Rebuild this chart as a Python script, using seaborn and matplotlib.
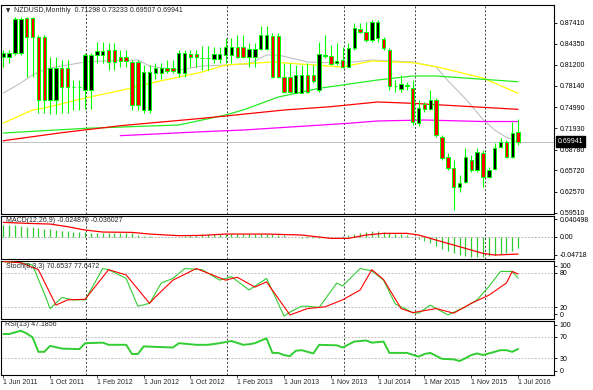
import numpy as np
import pandas as pd
import matplotlib
matplotlib.use('Agg')
import matplotlib.pyplot as plt
import seaborn as sns
from matplotlib.transforms import blended_transform_factory

sns.set_style('white')
plt.rcParams['font.family'] = ['Liberation Sans', 'DejaVu Sans']

# ---------------- data ----------------
opens = [0.8233, 0.8233, 0.8292, 0.8292, 0.8806, 0.8806, 0.8535, 0.8535, 0.7606, 0.7606,
         0.8071, 0.8071, 0.7801, 0.7801, 0.7753, 0.7753, 0.8267, 0.8267, 0.8340, 0.8340,
         0.8233, 0.8233, 0.8169, 0.8169, 0.7459, 0.7459, 0.8007, 0.8007, 0.8080, 0.8080,
         0.8007, 0.8007, 0.8281, 0.8281, 0.8225, 0.8225, 0.8207, 0.8207, 0.8267, 0.8267,
         0.8389, 0.8389, 0.8242, 0.8242, 0.8350, 0.8350, 0.8546, 0.8546, 0.7948, 0.7948,
         0.7713, 0.7713, 0.7973, 0.7973, 0.7753, 0.8250, 0.8252, 0.8154, 0.8193, 0.8095,
         0.8365, 0.8648, 0.8609, 0.8487, 0.8511, 0.8497, 0.8340, 0.7812, 0.7763, 0.7812,
         0.7778, 0.7268, 0.7547, 0.7469, 0.7606, 0.7067, 0.6773, 0.6603, 0.6333, 0.6406,
         0.6725, 0.6578, 0.6823, 0.6480, 0.6588, 0.6911, 0.6994, 0.6764, 0.71298]
highs = [0.8340, 0.8340, 0.8825, 0.8825, 0.8829, 0.8829, 0.8560, 0.8560, 0.8242, 0.8242,
         0.8193, 0.8193, 0.7900, 0.7900, 0.8292, 0.8292, 0.8462, 0.8462, 0.8438, 0.8438,
         0.8340, 0.8340, 0.8193, 0.8193, 0.8120, 0.8120, 0.8150, 0.8150, 0.8193, 0.8193,
         0.8340, 0.8340, 0.8340, 0.8340, 0.8400, 0.8400, 0.8389, 0.8389, 0.8510, 0.8510,
         0.8560, 0.8560, 0.8438, 0.8438, 0.8692, 0.8692, 0.8585, 0.8585, 0.8145, 0.8145,
         0.8120, 0.8120, 0.8145, 0.8120, 0.8462, 0.8560, 0.8414, 0.8438, 0.8389, 0.8438,
         0.8732, 0.8732, 0.8756, 0.8781, 0.8781, 0.8535, 0.8365, 0.7900, 0.7973, 0.7875,
         0.7900, 0.7606, 0.7581, 0.7753, 0.7635, 0.7092, 0.6823, 0.6725, 0.6505, 0.6897,
         0.6798, 0.6897, 0.6872, 0.6627, 0.6970, 0.7043, 0.7018, 0.7287, 0.73233]
lows = [0.8095, 0.8145, 0.8267, 0.8267, 0.7948, 0.7948, 0.7410, 0.7410, 0.7400, 0.7400,
        0.7410, 0.7410, 0.7459, 0.7459, 0.7480, 0.7480, 0.8145, 0.8145, 0.8046, 0.8046,
        0.8095, 0.8095, 0.7459, 0.7459, 0.7410, 0.7410, 0.7910, 0.7910, 0.8000, 0.8000,
        0.7940, 0.7940, 0.8095, 0.8095, 0.8046, 0.8046, 0.8145, 0.8145, 0.8150, 0.8150,
        0.8218, 0.8218, 0.8095, 0.8095, 0.8340, 0.8340, 0.7924, 0.7924, 0.7704, 0.7704,
        0.7704, 0.7704, 0.7704, 0.7860, 0.7728, 0.8230, 0.8120, 0.8120, 0.8071, 0.8095,
        0.8340, 0.8585, 0.8462, 0.8462, 0.8462, 0.8340, 0.7753, 0.7728, 0.7728, 0.7753,
        0.7239, 0.7224, 0.7434, 0.7459, 0.7063, 0.6725, 0.6578, 0.5991, 0.6259, 0.6383,
        0.6553, 0.6553, 0.6333, 0.6455, 0.6578, 0.6897, 0.6750, 0.6750, 0.69507]
closes = [0.8300, 0.8300, 0.8791, 0.8791, 0.8535, 0.8535, 0.7606, 0.7606, 0.8071, 0.8071,
          0.7801, 0.7801, 0.7790, 0.7790, 0.8267, 0.8267, 0.8330, 0.8330, 0.8169, 0.8169,
          0.8183, 0.8183, 0.7532, 0.7532, 0.8010, 0.8010, 0.8080, 0.8080, 0.8036, 0.8036,
          0.8292, 0.8292, 0.8233, 0.8233, 0.8218, 0.8218, 0.8281, 0.8281, 0.8389, 0.8389,
          0.8242, 0.8242, 0.8350, 0.8350, 0.8560, 0.8560, 0.7948, 0.7948, 0.7728, 0.7728,
          0.7973, 0.7973, 0.7728, 0.7885, 0.8277, 0.8262, 0.8135, 0.8179, 0.8095, 0.8365,
          0.8659, 0.8609, 0.8487, 0.8756, 0.8756, 0.8365, 0.7812, 0.7806, 0.7836, 0.7815,
          0.7287, 0.7488, 0.7469, 0.7606, 0.7092, 0.6750, 0.6603, 0.6333, 0.6383, 0.6773,
          0.6578, 0.6847, 0.6480, 0.6578, 0.6897, 0.6985, 0.6773, 0.7126, 0.69941]

# moving averages (bar index, value)
gray_idx = [0, 3, 5, 6, 8, 11, 14, 17, 23, 25, 30, 34, 42, 45, 47, 52, 58, 63, 70, 74, 76, 79, 82, 84, 86, 88]
gray_val = [0.7709, 0.7856, 0.7973, 0.8017, 0.8076, 0.8120, 0.8164, 0.8179, 0.8193, 0.8105,
            0.8046, 0.8105, 0.8135, 0.8267, 0.8267, 0.8164, 0.8149, 0.8193, 0.8164, 0.8090,
            0.7890, 0.7625, 0.7320, 0.7165, 0.7058, 0.6994]
yellow_idx = [0, 5, 7, 14, 22, 26, 34, 38, 46, 53, 58, 63, 70, 74, 82, 88]
yellow_val = [0.7268, 0.7459, 0.7488, 0.7635, 0.7782, 0.7870, 0.8017, 0.8120, 0.8164, 0.8120,
              0.8091, 0.8179, 0.8154, 0.8095, 0.7929, 0.7704]
green_idx = [0, 14, 30, 38, 41, 47, 54, 64, 70, 74, 88]
green_val = [0.7121, 0.7190, 0.7239, 0.7386, 0.7459, 0.7650, 0.7778, 0.7900, 0.7958, 0.7958, 0.7874]
red_idx = [0, 10, 20, 34, 38, 48, 56, 64, 70, 80, 88]
red_val = [0.7008, 0.7126, 0.7228, 0.7337, 0.7371, 0.7459, 0.7508, 0.7577, 0.7557, 0.7508, 0.7469]
mag_idx = [20, 34, 41, 59, 64, 72, 82, 88]
mag_val = [0.7082, 0.7140, 0.7165, 0.7264, 0.7298, 0.7312, 0.7290, 0.7290]

# MACD histogram per bar and signal line
macd_hist = [0.0294, 0.0294, 0.0278, 0.0261, 0.0245, 0.0229, 0.0212, 0.0196, 0.0180, 0.0163,
             0.0147, 0.0131, 0.0123, 0.0114, 0.0106, 0.0098, 0.0098, 0.0098, 0.0098, 0.0098,
             0.0098, 0.0098, 0.0082, 0.0041, 0.0025, 0.0010, -0.0005, -0.0010, -0.0012, -0.0008,
             0.0000, 0.0020, 0.0035, 0.0045, 0.0055, 0.0055, 0.0055, 0.0055, 0.0055, 0.0055,
             0.0055, 0.0055, 0.0055, 0.0055, 0.0055, 0.0055, 0.0055, 0.0050, 0.0030, -0.0005,
             -0.0016, -0.0025, -0.0033, -0.0041, -0.0025, -0.0016, -0.0008, 0.0000, 0.0016, 0.0033,
             0.0065, 0.0090, 0.0114, 0.0131, 0.0139, 0.0123, 0.0098, 0.0074, 0.0057, 0.0033,
             -0.0016, -0.0065, -0.0114, -0.0163, -0.0229, -0.0294, -0.0351, -0.0408, -0.0449, -0.0474,
             -0.0490, -0.0490, -0.0490, -0.0474, -0.0457, -0.0433, -0.0392, -0.0343, -0.0275]
sig_idx = [0, 4, 8, 11, 14, 17, 22, 25, 30, 34, 38, 45, 51, 56, 59, 62, 65, 69, 71, 75, 79, 82, 84, 88]
sig_val = [0.0351, 0.0327, 0.0310, 0.0245, 0.0163, 0.0114, 0.0106, 0.0065, 0.0025, 0.0033,
           0.0065, 0.0065, 0.0041, -0.0041, -0.0041, 0.0041, 0.0082, 0.0082, 0.0041, -0.0123,
           -0.0286, -0.0408, -0.0449, -0.0425]

# Stochastic
k_idx = [0, 3, 5, 7, 8, 10, 12, 14, 17, 18, 21, 23, 25, 27, 29, 31, 34, 37, 39, 42, 45, 48, 49,
         51, 52, 54, 57, 58, 61, 63, 65, 67, 70, 71, 73, 76, 79, 81, 83, 85, 87, 88]
k_val = [99, 97, 93, 44, 18, 37, 33, 33, 87, 85, 70, 22, 27, 62, 70, 87, 85, 67, 73, 50, 70, 5, 12,
         22, 22, 20, 62, 57, 87, 83, 67, 26, 11, 10, 24, 7, 21, 33, 56, 82, 82, 70.65]
d_idx = [0, 3, 6, 9, 11, 14, 15, 18, 21, 25, 26, 29, 33, 38, 40, 43, 45, 49, 52, 55, 58, 61, 63,
         65, 68, 70, 74, 77, 80, 83, 86, 87, 88]
d_val = [99, 97, 85, 24, 33, 34, 47, 85, 76, 27, 38, 67, 87, 67, 72, 55, 64, 7, 18, 21, 33, 50, 85,
         68, 18, 11, 18, 10, 27, 41, 62, 82, 77.65]

# RSI
rsi_idx = [0, 1, 3, 4, 5, 6, 7, 8, 10, 13, 14, 17, 18, 21, 22, 23, 24, 29, 30, 33, 35, 37, 39, 41,
           42, 43, 45, 46, 47, 48, 49, 50, 51, 53, 54, 57, 58, 60, 62, 63, 65, 66, 69, 71, 72, 73,
           75, 77, 78, 79, 80, 81, 82, 85, 86, 87, 88]
rsi_val = [75, 75, 81, 76, 69, 42, 42, 53, 48, 47, 58, 59, 55, 55, 38, 38, 52, 50, 58, 55, 55, 58, 62,
           55, 56, 58, 67, 40, 40, 36, 34, 44, 45, 39, 55, 54, 50, 61, 63, 59, 61, 40, 40, 33, 38, 40,
           29, 28, 25, 30, 36, 39, 36, 45, 45, 42, 47.19]

xtick_labels = ['1 Jun 2011', '1 Oct 2011', '1 Feb 2012', '1 Jun 2012', '1 Oct 2012', '1 Feb 2013',
                '1 Jun 2013', '1 Nov 2013', '1 Jul 2014', '1 Mar 2015', '1 Nov 2015', '1 Jul 2016']
price_ticks = [0.87410, 0.84350, 0.81200, 0.78140, 0.74990, 0.71930, 0.68780, 0.65720, 0.62570, 0.59510]
grid_pos = [14.1, 38.25, 58.25, 70.35, 82.35]

# ---------------- figure ----------------
W, H = 593, 390
fig = plt.figure(figsize=(W / 100, H / 100), dpi=100, facecolor='white')

def frac(top, bottom, left=1, right=554):
    return [left / W, 1 - bottom / H, (right - left) / W, (bottom - top) / H]

ax_main = fig.add_axes(frac(5, 214))
ax_macd = fig.add_axes(frac(216, 259))
ax_sto = fig.add_axes(frac(261, 319))
ax_rsi = fig.add_axes(frac(320.5, 374.5))

XL, XR = -0.393, 94.14
TXT = 5.0

def style(ax):
    ax.set_xlim(XL, XR)
    ax.set_facecolor('white')
    for s in ax.spines.values():
        s.set_color('black')
        s.set_linewidth(0.8)
    ax.yaxis.tick_right()
    ax.tick_params(axis='y', which='both', direction='out', length=2.5, width=0.6,
                   labelsize=TXT, pad=1.5, right=True, left=False, colors='black')
    ax.tick_params(axis='x', bottom=False, labelbottom=False)
    for g in grid_pos:
        ax.axvline(g, color='#404040', lw=0.7, ls=(0, (2, 2)), zorder=1)
    ax.set_xlabel('')
    ax.set_ylabel('')

idx = np.arange(len(opens))
o = np.array(opens); h = np.array(highs); l = np.array(lows); c = np.array(closes)

# main chart
ax = ax_main
style(ax)
for xs, ys, col, lw in [(gray_idx, gray_val, '#C0C0C0', 0.8), (yellow_idx, yellow_val, '#FFFF00', 0.9),
                        (green_idx, green_val, '#22EE22', 0.9), (red_idx, red_val, '#FF0000', 0.9),
                        (mag_idx, mag_val, '#FF00FF', 0.9)]:
    sns.lineplot(x=xs, y=ys, ax=ax, color=col, lw=lw, zorder=2)
ax.axhline(c[-1], color='#C0C0C0', lw=0.7, zorder=1.5)
ax.vlines(idx, l, h, color='#00FF00', lw=0.8, zorder=3)
body_col = ['#000000' if cc >= oo else '#FF0000' for oo, cc in zip(o, c)]
ax.bar(idx, np.maximum(np.abs(c - o), 0.0007), bottom=np.minimum(o, c), width=0.58,
       color=body_col, edgecolor='#00FF00', linewidth=0.7, zorder=4)
ax.set_ylim(0.5932, 0.9001)
ax.set_yticks(price_ticks)
ax.set_yticklabels([f'{v:.5f}' for v in price_ticks])
ax.set_xlim(XL, XR)
ax.set_xlabel(''); ax.set_ylabel('')
tr = blended_transform_factory(ax.transAxes, ax.transData)
ax.text(1.006, c[-1], f'{c[-1]:.5f}', transform=tr, fontsize=TXT, color='white', va='center', ha='left',
        bbox=dict(boxstyle='square,pad=0.25', fc='black', ec='black'), zorder=10, clip_on=False)
ax.text(6.7 / 553, 1 - 6 / 209, '\u25bc', transform=ax.transAxes, fontsize=4, va='center', ha='center',
        family=['DejaVu Sans'])
ax.text(12.5 / 553, 1 - 6 / 209,
        f'NZDUSD,Monthly  {o[-1]:.5f} {h[-1]:.5f} {l[-1]:.5f} {c[-1]:.5f}',
        transform=ax.transAxes, fontsize=TXT, va='center', ha='left')

# MACD
ax = ax_macd
style(ax)
ax.axhline(0, color='#A0A0A0', lw=0.6, ls=(0, (2, 2)), zorder=1)
ax.vlines(idx, 0, macd_hist, color='#33CC33', lw=0.9, zorder=3)
sns.lineplot(x=sig_idx, y=sig_val, ax=ax, color='#FF0000', lw=0.9, zorder=4)
ax.set_ylim(-0.0546, 0.0507)
ax.set_yticks([0.0426, 0.0, -0.0448])
ax.set_yticklabels(['0.040498', '0.00', '-0.04718'])
ax.set_xlim(XL, XR)
ax.set_xlabel(''); ax.set_ylabel('')
ax.text(5 / 553, 1 - 5 / 43, 'MACD(12,26,9) -0.024870 -0.036027', transform=ax.transAxes,
        fontsize=TXT, va='center', ha='left', zorder=6)

# Stochastic
ax = ax_sto
style(ax)
for lev in (20, 80):
    ax.axhline(lev, color='#B0B0B0', lw=0.6, ls=(0, (2, 2)), zorder=1)
sns.lineplot(x=k_idx, y=k_val, ax=ax, color='#33CC33', lw=0.8, zorder=3)
sns.lineplot(x=d_idx, y=d_val, ax=ax, color='#FF0000', lw=0.8, zorder=4)
ax.set_ylim(0, 100)
ax.set_yticks([92, 80, 20, 8])
ax.set_yticklabels(['100', '80', '20', '0'])
ax.set_xlim(XL, XR)
ax.set_xlabel(''); ax.set_ylabel('')
ax.text(5 / 553, 1 - 5.7 / 58, 'Stoch(8,3,3) 70.6537 77.6472', transform=ax.transAxes,
        fontsize=TXT, va='center', ha='left', zorder=6)

# RSI
ax = ax_rsi
style(ax)
for lev in (30, 70):
    ax.axhline(lev, color='#B0B0B0', lw=0.6, ls=(0, (2, 2)), zorder=1)
sns.lineplot(x=rsi_idx, y=rsi_val, ax=ax, color='#32CD32', lw=1.4, zorder=3)
ax.set_ylim(0, 100)
ax.set_yticks([92, 70, 30, 7])
ax.set_yticklabels(['100', '70', '30', '0'])
ax.set_xlim(XL, XR)
ax.set_xlabel(''); ax.set_ylabel('')
ax.text(4 / 553, 1 - 4.5 / 54, 'RSI(13) 47.1856', transform=ax.transAxes,
        fontsize=TXT, va='center', ha='left', zorder=6)
ax.set_xticks(list(range(0, 89, 8)))
ax.set_xticklabels(xtick_labels)
ax.tick_params(axis='x', bottom=True, labelbottom=True, length=2, width=0.6, labelsize=TXT, pad=1.5,
               direction='out')
for t in ax.get_xticklabels():
    t.set_horizontalalignment('left')

fig.savefig('out.png', dpi=100, facecolor='white')
